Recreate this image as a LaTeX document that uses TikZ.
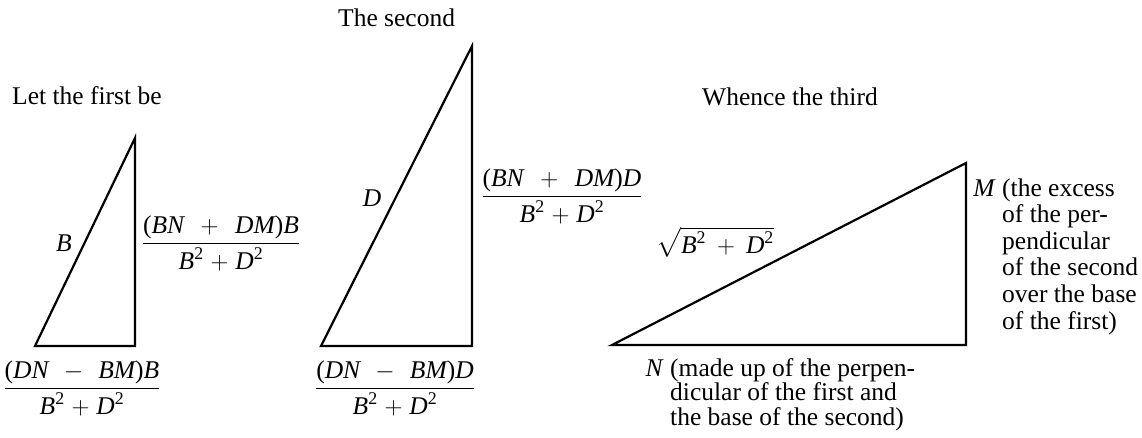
\documentclass[tikz,border=0pt]{standalone}
\usepackage{amsmath}
\usepackage{fontspec}
\setmainfont{Liberation Serif}
\newcommand\iv[1]{\text{\itshape #1}}
\newcommand\tx[1]{\text{#1}}
\newcommand\pl[1][11]{\mskip#1mu{+}\mskip#1mu}
\newcommand\mn[1][11]{\mskip#1mu{-}\mskip#1mu}
\newcommand\den{\iv{B}^{\tx{2}} \pl[5] \iv{D}^{\tx{2}}}
\begin{document}
\begin{tikzpicture}[x=1pt,y=-1pt,
  tri/.style={line width=2.2pt, line join=miter},
  lbl/.style={inner sep=0pt, font=\fontsize{25.5}{26.6}\selectfont},
  nlbl/.style={inner sep=0pt, font=\fontsize{25.5}{24.8}\selectfont}]
\useasboundingbox (0,0) rectangle (1142,438);
% titles
\node[lbl, anchor=base west] (t1) at (12,105) {Let the first be};
\node[lbl, anchor=base west] (t2) at (338,27) {The second};
\node[lbl, anchor=base west] (t3) at (702,106) {Whence the third};
% triangle 1
\coordinate (a1) at (35,346);
\coordinate (b1) at (135,138);
\coordinate (c1) at (135,346);
\draw[tri] (a1) -- (b1) -- (c1) -- cycle;
% triangle 2
\coordinate (a2) at (321,346);
\coordinate (b2) at (472,46);
\coordinate (c2) at (472,346);
\draw[tri] (a2) -- (b2) -- (c2) -- cycle;
% triangle 3
\coordinate (a3) at (612,345);
\coordinate (b3) at (966,163);
\coordinate (c3) at (966,345);
\draw[tri] (a3) -- (b3) -- (c3) -- cycle;
% side labels
\node[lbl] (lB) at (64,243) {$\iv{B}$};
\node[lbl] (lD) at (372,198) {$\iv{D}$};
\node[lbl] (lS) at (715,242) {$\sqrt{\iv{B}^{\tx{2}} \pl[8] \iv{D}^{\tx{2}}}$};
% fractions
\node[lbl] (f1) at (221,243) {$\dfrac{\tx{(}\iv{BN}\pl[12]\iv{DM}\tx{)}\iv{B}}{\den}$};
\node[lbl] (f2) at (562,196) {$\dfrac{\tx{(}\iv{BN}\pl[12]\iv{DM}\tx{)}\iv{D}}{\den}$};
\node[lbl] (f3) at (82,388) {$\dfrac{\tx{(}\iv{DN}\mn\iv{BM}\tx{)}\iv{B}}{\den}$};
\node[lbl] (f4) at (395,388) {$\dfrac{\tx{(}\iv{DN}\mn\iv{BM}\tx{)}\iv{D}}{\den}$};
% M and N texts
\node[lbl, anchor=base west, align=left] (mt) at (1002,329)
  {\llap{\textit{M} }(the excess\\of the per-\\pendicular\\of the second\\over the base\\of the first)};
\node[nlbl, anchor=base west, align=left] (nt) at (670,425.6)
  {\llap{\textit{N} }(made up of the perpen-\\dicular of the first and\\the base of the second)};
\end{tikzpicture}
\end{document}
